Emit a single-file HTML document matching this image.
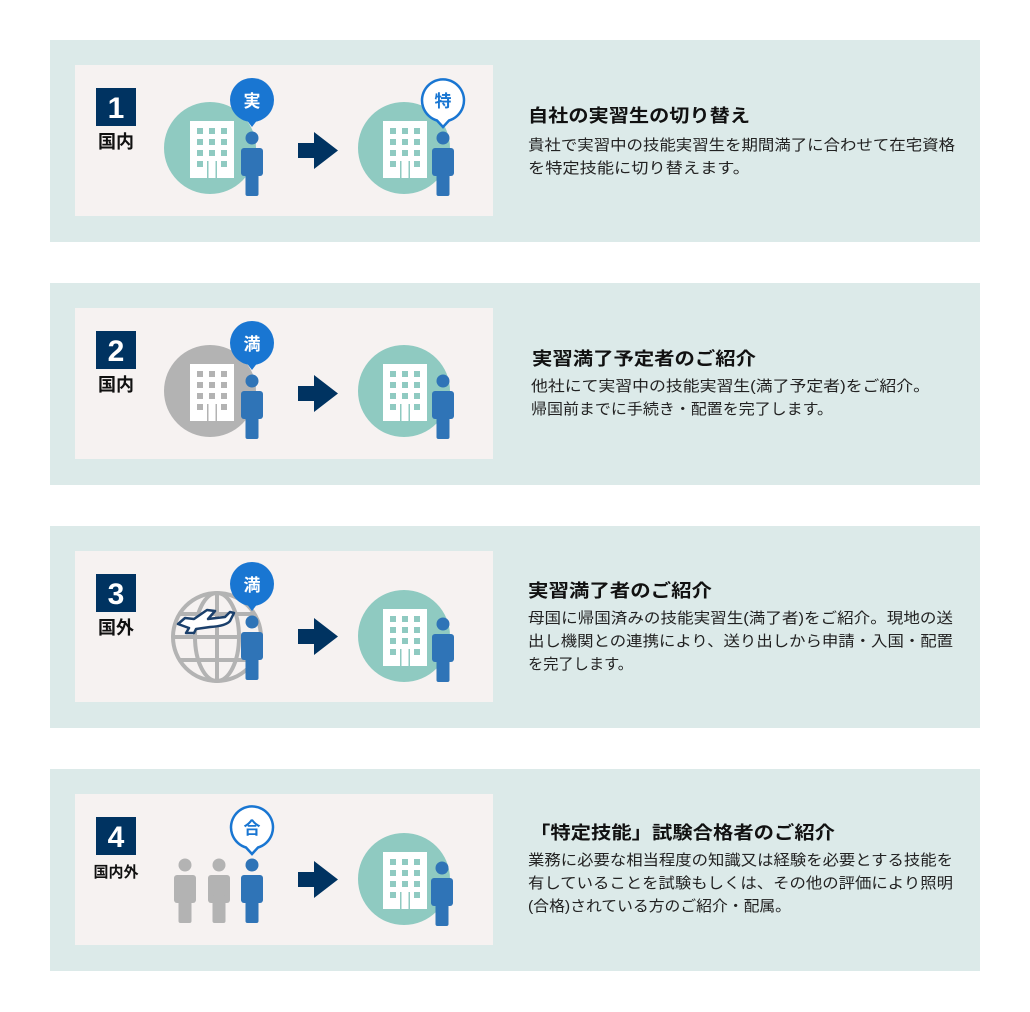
<!DOCTYPE html>
<html><head><meta charset="utf-8"><style>
html,body{margin:0;padding:0;background:#fff;}
svg{display:block;}
text{font-family:"Liberation Sans","Noto Sans CJK JP",sans-serif;}
</style></head><body>
<svg width="1030" height="1012" viewBox="0 0 1030 1012" xmlns="http://www.w3.org/2000/svg">
<defs>
 <g id="bld">
  <rect x="-22" y="-28" width="44" height="57" fill="#fff"/>
  <g fill="#8fcac1">
   <rect x="-15" y="-21" width="6" height="6"/><rect x="-3" y="-21" width="6" height="6"/><rect x="9" y="-21" width="6" height="6"/>
   <rect x="-15" y="-10" width="6" height="6"/><rect x="-3" y="-10" width="6" height="6"/><rect x="9" y="-10" width="6" height="6"/>
   <rect x="-15" y="1" width="6" height="6"/><rect x="-3" y="1" width="6" height="6"/><rect x="9" y="1" width="6" height="6"/>
   <rect x="-15" y="12" width="6" height="6"/><rect x="9" y="12" width="6" height="6"/>
   <rect x="-5" y="12" width="1.5" height="17"/><rect x="3.5" y="12" width="1.5" height="17"/>
  </g>
 </g>
 <g id="bldg">
  <rect x="-22" y="-28" width="44" height="57" fill="#fff"/>
  <g fill="#b3b3b3">
   <rect x="-15" y="-21" width="6" height="6"/><rect x="-3" y="-21" width="6" height="6"/><rect x="9" y="-21" width="6" height="6"/>
   <rect x="-15" y="-10" width="6" height="6"/><rect x="-3" y="-10" width="6" height="6"/><rect x="9" y="-10" width="6" height="6"/>
   <rect x="-15" y="1" width="6" height="6"/><rect x="-3" y="1" width="6" height="6"/><rect x="9" y="1" width="6" height="6"/>
   <rect x="-15" y="12" width="6" height="6"/><rect x="9" y="12" width="6" height="6"/>
   <rect x="-5" y="12" width="1.5" height="17"/><rect x="3.5" y="12" width="1.5" height="17"/>
  </g>
 </g>
 <g id="per">
  <circle cx="0" cy="0" r="6.5"/>
  <rect x="-11" y="10" width="22" height="28" rx="3"/>
  <rect x="-6.5" y="30" width="13" height="28" rx="2"/>
 </g>
 <g id="arr"><path d="M0,11 H16 V0 L40,18.5 L16,37 V26 H0 Z" fill="#003361"/></g>
 <g id="bub"><circle cx="0" cy="0" r="22" fill="#1976d2"/><path d="M-6,19 L0,27 L6,19 Z" fill="#1976d2"/></g>
 <g id="bubo"><path d="M-6,20.5 A21,21 0 1 1 6,20.5 L0,27 Z" fill="#fff" stroke="#1976d2" stroke-width="2.5"/></g>
</defs>

<g fill="#dceae9">
 <rect x="50" y="40" width="930" height="202"/>
 <rect x="50" y="283" width="930" height="202"/>
 <rect x="50" y="526" width="930" height="202"/>
 <rect x="50" y="769" width="930" height="202"/>
</g>
<g fill="#f6f2f1">
 <rect x="75" y="65" width="418" height="151"/>
 <rect x="75" y="308" width="418" height="151"/>
 <rect x="75" y="551" width="418" height="151"/>
 <rect x="75" y="794" width="418" height="151"/>
</g>

<g fill="#003361">
 <rect x="96" y="88" width="40" height="38"/>
 <rect x="96" y="331" width="40" height="38"/>
 <rect x="96" y="574" width="40" height="38"/>
 <rect x="96" y="817" width="40" height="38"/>
</g>
<g fill="#fff" font-size="30" font-weight="bold" text-anchor="middle">
 <text x="116" y="118">1</text><text x="116" y="361">2</text><text x="116" y="604">3</text><text x="116" y="847">4</text>
</g>
<g fill="#111" font-size="18" font-weight="bold" text-anchor="middle">
 <text x="116" y="148">国内</text><text x="116" y="391">国内</text><text x="116" y="634">国外</text><text x="116" y="877" font-size="15">国内外</text>
</g>

<circle cx="210" cy="148" r="46" fill="#8fcac1"/>
<use href="#bld" x="212" y="149"/>
<use href="#per" x="252" y="138" fill="#2f74b7"/>
<use href="#bub" x="252" y="100"/>
<text x="252" y="107" fill="#fff" font-size="17" font-weight="bold" text-anchor="middle">実</text>
<use href="#arr" x="298" y="132"/>
<circle cx="404" cy="148" r="46" fill="#8fcac1"/>
<use href="#bld" x="405" y="149"/>
<use href="#per" x="443" y="138" fill="#2f74b7"/>
<use href="#bubo" x="443" y="100"/>
<text x="443" y="107" fill="#1976d2" font-size="17" font-weight="bold" text-anchor="middle">特</text>

<circle cx="210" cy="391" r="46" fill="#b3b3b3"/>
<use href="#bldg" x="212" y="392"/>
<use href="#per" x="252" y="381" fill="#2f74b7"/>
<use href="#bub" x="252" y="343"/>
<text x="252" y="350" fill="#fff" font-size="17" font-weight="bold" text-anchor="middle">満</text>
<use href="#arr" x="298" y="375"/>
<circle cx="404" cy="391" r="46" fill="#8fcac1"/>
<use href="#bld" x="405" y="392"/>
<use href="#per" x="443" y="381" fill="#2f74b7"/>

<g fill="none" stroke="#b3b3b3" stroke-width="4">
 <circle cx="217" cy="637" r="44"/>
 <ellipse cx="217" cy="637" rx="22" ry="44"/>
 <line x1="217" y1="593" x2="217" y2="681"/>
 <line x1="173" y1="637" x2="261" y2="637"/>
 <line x1="180" y1="614" x2="254" y2="614"/>
 <line x1="180" y1="660" x2="254" y2="660"/>
</g>
<path d="M178,624 L185,618 L194,619 L207,610 L215,611 L208,619 L225,617 L230,612 L234,613 L230,621 Q226,626 210,627 L196,629 L194,633 L186,633 L189,628 Z" fill="#fff" stroke="#1a3f6b" stroke-width="2.5" stroke-linejoin="round"/>
<use href="#per" x="252" y="622" fill="#2f74b7"/>
<use href="#bub" x="252" y="584"/>
<text x="252" y="591" fill="#fff" font-size="17" font-weight="bold" text-anchor="middle">満</text>
<use href="#arr" x="298" y="618"/>
<circle cx="404" cy="636" r="46" fill="#8fcac1"/>
<use href="#bld" x="405" y="637"/>
<use href="#per" x="443" y="624" fill="#2f74b7"/>

<use href="#per" x="185" y="865" fill="#b3b3b3"/>
<use href="#per" x="219" y="865" fill="#b3b3b3"/>
<use href="#per" x="252" y="865" fill="#2f74b7"/>
<use href="#bubo" x="252" y="827"/>
<text x="252" y="834" fill="#1976d2" font-size="17" font-weight="bold" text-anchor="middle">合</text>
<use href="#arr" x="298" y="861"/>
<circle cx="404" cy="879" r="46" fill="#8fcac1"/>
<use href="#bld" x="405" y="880"/>
<use href="#per" x="442" y="868" fill="#2f74b7"/>

<g fill="#111" font-size="18" font-weight="bold">
 <text x="528" y="122" textLength="222" lengthAdjust="spacingAndGlyphs">自社の実習生の切り替え</text>
 <text x="532" y="365" textLength="224" lengthAdjust="spacingAndGlyphs">実習満了予定者のご紹介</text>
 <text x="528" y="597" textLength="184" lengthAdjust="spacingAndGlyphs">実習満了者のご紹介</text>
 <text x="530" y="839" textLength="305" lengthAdjust="spacingAndGlyphs">「特定技能」試験合格者のご紹介</text>
</g>
<g fill="#222" font-size="15">
 <text x="528" y="150" textLength="427" lengthAdjust="spacingAndGlyphs">貴社で実習中の技能実習生を期間満了に合わせて在宅資格</text>
 <text x="528" y="173" textLength="222" lengthAdjust="spacingAndGlyphs">を特定技能に切り替えます。</text>
 <text x="531" y="391" textLength="399" lengthAdjust="spacingAndGlyphs">他社にて実習中の技能実習生(満了予定者)をご紹介。</text>
 <text x="531" y="414" textLength="302" lengthAdjust="spacingAndGlyphs">帰国前までに手続き・配置を完了します。</text>
 <text x="528" y="623" textLength="425" lengthAdjust="spacingAndGlyphs">母国に帰国済みの技能実習生(満了者)をご紹介。現地の送</text>
 <text x="528" y="646" textLength="425" lengthAdjust="spacingAndGlyphs">出し機関との連携により、送り出しから申請・入国・配置</text>
 <text x="528" y="669" textLength="105" lengthAdjust="spacingAndGlyphs">を完了します。</text>
 <text x="528" y="865" textLength="425" lengthAdjust="spacingAndGlyphs">業務に必要な相当程度の知識又は経験を必要とする技能を</text>
 <text x="528" y="888" textLength="425" lengthAdjust="spacingAndGlyphs">有していることを試験もしくは、その他の評価により照明</text>
 <text x="528" y="911" textLength="263" lengthAdjust="spacingAndGlyphs">(合格)されている方のご紹介・配属。</text>
</g>
</svg>
</body></html>
